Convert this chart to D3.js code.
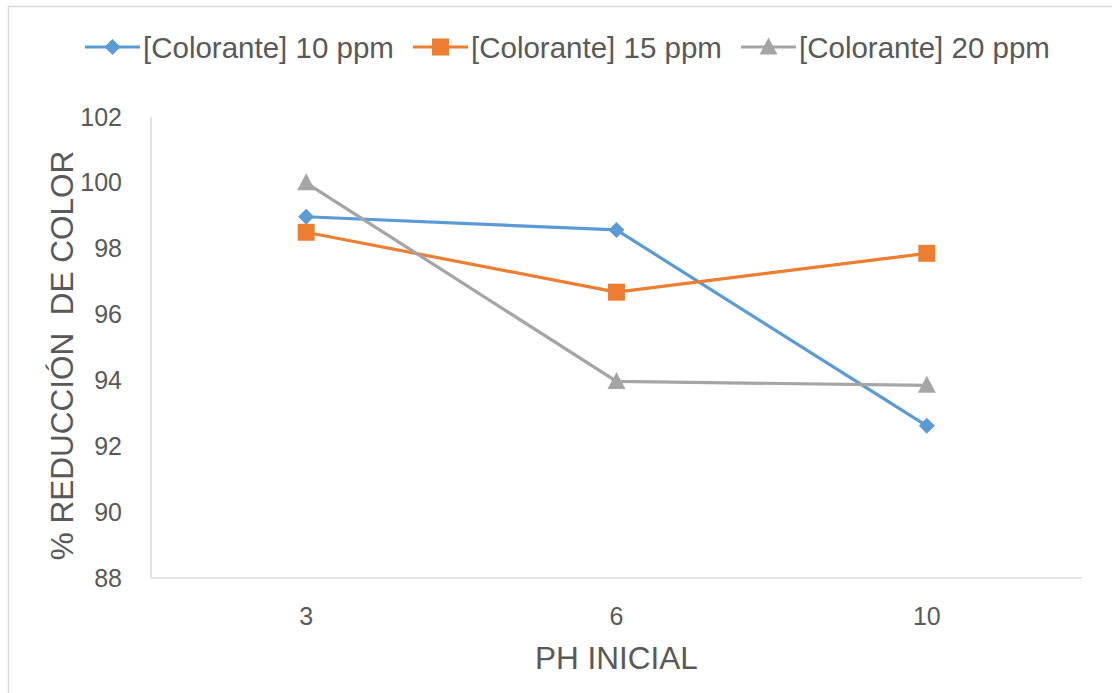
<!DOCTYPE html>
<html>
<head>
<meta charset="utf-8">
<script src="https://cdn.jsdelivr.net/npm/d3@7"></script>
<style>
  html, body { margin: 0; padding: 0; background: #ffffff; }
  svg { display: block; font-family: "Liberation Sans", Arial, sans-serif; }
</style>
</head>
<body>
<svg id="chart" width="1112" height="693"></svg>
<script>
// Initial pH levels tested
const categories = ["3", "6", "10"];

// % colour reduction for each dye concentration
const series10 = [98.97, 98.57, 92.62];
const series15 = [98.5, 96.68, 97.86];
const series20 = [100.0, 93.97, 93.85];

const seriesNames = ["[Colorante] 10 ppm", "[Colorante] 15 ppm", "[Colorante] 20 ppm"];
const yTicks = [88, 90, 92, 94, 96, 98, 100, 102];

const colors = ["#5B9BD5", "#ED7D31", "#A5A5A5"];
const shapes = ["diamond", "square", "triangle"];
const allSeries = [series10, series15, series20];

const svg = d3.select("#chart");
const textColor = "#595959";
const axisColor = "#D9D9D9";
const fontFamily = "Liberation Sans, Arial, sans-serif";

// Chart frame
svg.append("rect")
  .attr("x", 8.5).attr("y", 6.5)
  .attr("width", 1200).attr("height", 800)
  .attr("fill", "none").attr("stroke", axisColor).attr("stroke-width", 1.5);

const plot = { left: 151, right: 1082, top: 117, bottom: 578 };

const x = d3.scaleBand().domain(categories).range([plot.left, plot.right]);
const y = d3.scaleLinear().domain([88, 102]).range([plot.bottom, plot.top]);

// Axis lines
svg.append("line")
  .attr("x1", plot.left).attr("x2", plot.left)
  .attr("y1", plot.top).attr("y2", plot.bottom)
  .attr("stroke", axisColor).attr("stroke-width", 1.5);
svg.append("line")
  .attr("x1", plot.left).attr("x2", plot.right)
  .attr("y1", plot.bottom).attr("y2", plot.bottom)
  .attr("stroke", axisColor).attr("stroke-width", 1.5);

// Y axis labels
const yAxis = d3.axisLeft(y).tickValues(yTicks).tickSize(0).tickPadding(29);
const gy = svg.append("g").attr("transform", `translate(${plot.left},0)`).call(yAxis);
gy.select(".domain").remove();
gy.attr("font-size", 25).attr("font-family", fontFamily);
gy.selectAll("text").attr("fill", textColor);

// X axis labels
const xAxis = d3.axisBottom(x).tickSize(0).tickPadding(29);
const gx = svg.append("g").attr("transform", `translate(0,${plot.bottom})`).call(xAxis);
gx.select(".domain").remove();
gx.attr("font-size", 25).attr("font-family", fontFamily);
gx.selectAll("text").attr("fill", textColor);

// Axis titles
svg.append("text")
  .attr("x", (plot.left + plot.right) / 2).attr("y", 669)
  .attr("text-anchor", "middle")
  .attr("fill", textColor).attr("font-size", 31.5)
  .text("PH INICIAL");

svg.append("text")
  .attr("transform", `translate(73,${(plot.top + plot.bottom) / 2 + 8}) rotate(-90)`)
  .attr("text-anchor", "middle")
  .attr("fill", textColor).attr("font-size", 31.5)
  .style("white-space", "pre")
  .text("% REDUCCIÓN  DE COLOR");

// Marker shapes
function markerPath(shape) {
  if (shape === "diamond") return "M0,-8L8,0L0,8L-8,0Z";
  if (shape === "square") return "M-8.5,-8.5H8.5V8.5H-8.5Z";
  return "M0,-9.5L9,7.5L-9,7.5Z";
}

const cx = d => x(d) + x.bandwidth() / 2;

const line = d3.line()
  .x((d, i) => cx(categories[i]))
  .y(d => y(d));

allSeries.forEach((vals, s) => {
  svg.append("path")
    .datum(vals)
    .attr("d", line)
    .attr("fill", "none")
    .attr("stroke", colors[s])
    .attr("stroke-width", 3.2)
    .attr("stroke-linejoin", "round");
});

allSeries.forEach((vals, s) => {
  svg.append("g").selectAll("path")
    .data(vals)
    .join("path")
    .attr("transform", (d, i) => `translate(${cx(categories[i])},${y(d)})`)
    .attr("d", markerPath(shapes[s]))
    .attr("fill", colors[s]);
});

// Legend
const legendX = [85, 413, 741];
const legendY = 47;
seriesNames.forEach((name, s) => {
  const g = svg.append("g").attr("transform", `translate(${legendX[s]},${legendY})`);
  g.append("line")
    .attr("x1", 0).attr("x2", 55).attr("y1", 0).attr("y2", 0)
    .attr("stroke", colors[s]).attr("stroke-width", 3.2);
  g.append("path")
    .attr("transform", "translate(27.5,0)")
    .attr("d", markerPath(shapes[s]))
    .attr("fill", colors[s]);
  g.append("text")
    .attr("x", 58).attr("y", 10.5)
    .attr("fill", textColor).attr("font-size", 29.5)
    .text(name);
});
</script>
</body>
</html>
